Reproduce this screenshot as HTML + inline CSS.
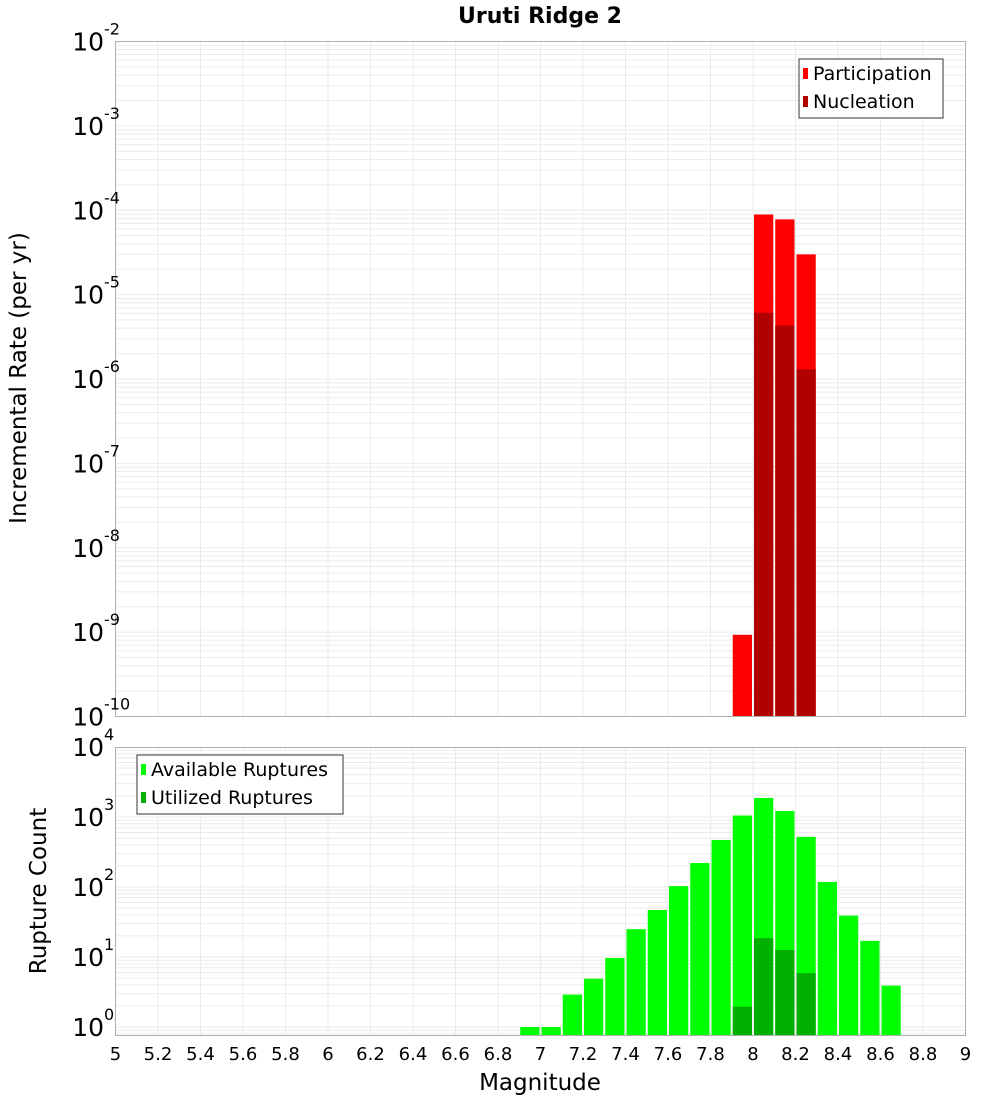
<!DOCTYPE html>
<html><head><meta charset="utf-8"><style>
body{margin:0;background:#fff}
svg{display:block;font-family:"DejaVu Sans","Liberation Sans",sans-serif}
</style></head><body>
<svg id="chart" width="1000" height="1100" xmlns="http://www.w3.org/2000/svg">
<text x="540" y="23" text-anchor="middle" font-size="22" font-weight="bold">Uruti Ridge 2</text>
<text transform="translate(26,378) rotate(-90)" text-anchor="middle" font-size="23">Incremental Rate (per yr)</text>
<text transform="translate(46,891) rotate(-90)" text-anchor="middle" font-size="23">Rupture Count</text>
<text x="540" y="1090" text-anchor="middle" font-size="23">Magnitude</text>
<g id="g"></g>
</svg>
<script>
const binStarts=[6.9,7.0,7.1,7.2,7.3,7.4,7.5,7.6,7.7,7.8,7.9,8.0,8.1,8.2,8.3,8.4,8.5,8.6];
const availableCounts=[1,1,2.9,4.9,9.7,25,47,103,220,470,1050,1870,1220,520,118,39,17,3.9];
const utilizedBins=[7.9,8.0,8.1,8.2];
const utilizedCounts=[1.95,18.6,12.6,5.9];
const rateBins=[7.9,8.0,8.1,8.2];
const participationRates=[9.3e-10,8.9e-5,7.8e-5,3.0e-5];
const nucleationRates=[0,6.1e-6,4.3e-6,1.3e-6];
const xTicks=[5,5.2,5.4,5.6,5.8,6,6.2,6.4,6.6,6.8,7,7.2,7.4,7.6,7.8,8,8.2,8.4,8.6,8.8,9];
const topExps=[-2,-3,-4,-5,-6,-7,-8,-9,-10];
const botExps=[4,3,2,1,0];
const NS="http://www.w3.org/2000/svg";
const g=document.getElementById('g');
function el(t,a,txt){const e=document.createElementNS(NS,t);for(const k in a)e.setAttribute(k,a[k]);if(txt!==undefined)e.textContent=txt;g.appendChild(e);return e;}
const X0=115.5,X1=965.5;
const x=m=>X0+(m-5)/4*(X1-X0);
const TY0=41.5,TY1=716.5;
const yTop=v=>TY1-(Math.log10(v)+10)/8*(TY1-TY0);
const BY0=747.5,BY1=1035.5,BD=70;
const yBot=v=>1027-Math.log10(v)*BD;

function grid(y0,y1,ylog,loE,hiE){
  for(let e=loE;e<hiE;e++)for(let k=1;k<10;k++){const yy=ylog(k*Math.pow(10,e));if(yy<y0||yy>y1)continue;
    const l=el('line',{x1:X0,x2:X1,y1:yy,y2:yy,stroke:'#ebebeb','stroke-width':1});
    }
  xTicks.forEach(t=>{const l=el('line',{x1:x(t),x2:x(t),y1:y0,y2:y1,stroke:'#ebebeb','stroke-width':1});
    });
}
grid(TY0,TY1,yTop,-10,-2);
grid(BY0,BY1,yBot,-1,4);

const bw=x(5.1)-x(5);
rateBins.forEach((b,i)=>{
  const r=el('rect',{x:x(b)+1,y:yTop(participationRates[i]),width:bw-2,height:TY1-yTop(participationRates[i]),fill:'#ff0000'});
  
  if(nucleationRates[i]>0){const n=el('rect',{x:x(b)+1,y:yTop(nucleationRates[i]),width:bw-2,height:TY1-yTop(nucleationRates[i]),fill:'#b00000'});
  }
});
binStarts.forEach((b,i)=>{
  const r=el('rect',{x:x(b)+1,y:yBot(availableCounts[i]),width:bw-2,height:BY1-yBot(availableCounts[i]),fill:'#00ff00'});
  
});
utilizedBins.forEach((b,i)=>{
  const r=el('rect',{x:x(b)+1,y:yBot(utilizedCounts[i]),width:bw-2,height:BY1-yBot(utilizedCounts[i]),fill:'#00b000'});
  
});

const f1=el('rect',{x:X0,y:TY0,width:X1-X0,height:TY1-TY0,fill:'none',stroke:'#b0b0b0'});

const f2=el('rect',{x:X0,y:BY0,width:X1-X0,height:BY1-BY0,fill:'none',stroke:'#b0b0b0'});


function ylab(yy,e,name){
  const t=el('text',{x:104,y:yy+9,'text-anchor':'end','font-size':25});
  
  t.textContent='10';
  const s=el('text',{x:104,y:yy-7,'text-anchor':'start','font-size':16});
  
  s.textContent=String(e);
}
topExps.forEach(e=>ylab(yTop(Math.pow(10,e)),e,'top-y-tick-label'));
botExps.forEach(e=>ylab(yBot(Math.pow(10,e)),e,'bottom-y-tick-label'));
xTicks.forEach(t=>{const l=el('text',{x:x(t),y:1060,'text-anchor':'middle','font-size':18});
  l.textContent=String(t);});

function legend(x0,y0,w,items,name){
  const b=el('rect',{x:x0,y:y0,width:w,height:59,fill:'#fff',stroke:'#333'});
  
  items.forEach((it,i)=>{
    const s=el('rect',{x:x0+4,y:y0+9+i*28,width:5,height:11,fill:it[1]});
    
    const t=el('text',{x:x0+14,y:y0+21+i*28,'font-size':19},it[0]);
    
  });
}
legend(799,59,144,[['Participation','#ff0000'],['Nucleation','#b00000']],'top-legend');
legend(137,755,206,[['Available Ruptures','#00ff00'],['Utilized Ruptures','#00b000']],'bottom-legend');
</script>
</body></html>
